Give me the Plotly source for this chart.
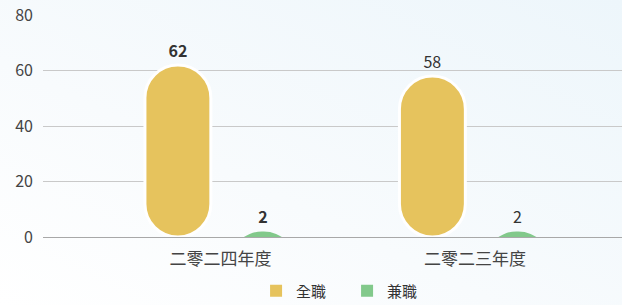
import base64
import plotly.graph_objects as go

categories = ["二零二四年度", "二零二三年度"]
fulltime = [62, 58]
parttime = [2, 2]
series_names = ["全職", "兼職"]
y_ticks = [0, 20, 40, 60, 80]

FONT = "Noto Sans CJK TC, Noto Sans, sans-serif"
YELLOW = "#e6c35d"
GREEN = "#82c98b"
TEXT = "#333333"

# layout geometry
W, H = 622, 305
ML, MR, MT, MB = 43, 0, 15, 68
PLOT_W, PLOT_H = W - ML - MR, H - MT - MB
Y_MAX = 80
BAR_W = 0.259                      # category units
Y_OFF = -0.167 - BAR_W / 2
G_OFF = 0.167 - BAR_W / 2
R_PX = 33                          # corner radius in px (half bar width)
R_UNITS = R_PX * Y_MAX / PLOT_H    # same radius in y units


def labels(vals):
    return [f"<b>{v}</b>" if i == 0 else str(v) for i, v in enumerate(vals)]


zero_base = [0 for _ in fulltime]
# part-time: a full rounded cap ending at the value, cut off by the axis
cap_base = [v - 2 * R_UNITS for v in parttime]
cap_len = [2 * R_UNITS for _ in parttime]

svg = (
    f'<svg xmlns="http://www.w3.org/2000/svg" width="{W}" height="{H}" preserveAspectRatio="none">'
    '<defs><linearGradient id="g" x1="1" y1="0" x2="0" y2="1">'
    '<stop offset="0" stop-color="#edf6fb"/><stop offset="0.6" stop-color="#f8fbfd"/>'
    '<stop offset="1" stop-color="#ffffff"/></linearGradient></defs>'
    f'<rect width="{W}" height="{H}" fill="url(#g)"/></svg>'
)
bg_src = "data:image/svg+xml;base64," + base64.b64encode(svg.encode()).decode()

fig = go.Figure()
# full-time: pill shaped bars (explicit base -> both ends rounded)
fig.add_trace(go.Bar(
    name=series_names[0], x=categories, y=fulltime, base=zero_base,
    offset=Y_OFF, width=BAR_W, showlegend=False, legendgroup="ft",
    hovertemplate="%{x}<br>%{y}<extra>全職</extra>",
    marker=dict(color=YELLOW, line=dict(color="white", width=3)),
    text=labels(fulltime), textposition="outside",
    textfont=dict(family=FONT, size=16, color=TEXT),
))
fig.add_trace(go.Bar(
    name=series_names[1], x=categories, y=cap_len, base=cap_base,
    offset=G_OFF, width=BAR_W, showlegend=False, legendgroup="pt",
    customdata=parttime, hovertemplate="%{x}<br>%{customdata}<extra>兼職</extra>",
    marker=dict(color=GREEN, line=dict(width=0)),
    text=labels(parttime), textposition="outside",
    textfont=dict(family=FONT, size=16, color=TEXT),
))
# legend entries (square swatches)
for name, col, grp in [(series_names[0], YELLOW, "ft"), (series_names[1], GREEN, "pt")]:
    fig.add_trace(go.Bar(
        name=name, x=[None], y=[None], legendgroup=grp, showlegend=True,
        marker=dict(color=col, cornerradius=0, line=dict(width=0)),
    ))

fig.update_layout(
    width=W, height=H,
    margin=dict(l=ML, r=MR, t=MT, b=MB, autoexpand=False),
    paper_bgcolor="#f8fbfd",
    plot_bgcolor="rgba(0,0,0,0)",
    barmode="overlay",
    barcornerradius=R_PX,
    font=dict(family=FONT, size=15, color=TEXT),
    showlegend=True,
    legend=dict(
        orientation="h", x=0.368, xanchor="left", y=-0.243, yanchor="middle",
        font=dict(family=FONT, size=15, color=TEXT),
        bgcolor="rgba(0,0,0,0)", entrywidth=46, tracegroupgap=0,
    ),
    images=[dict(
        source=bg_src, xref="paper", yref="paper",
        x=-ML / PLOT_W, y=1 + MT / PLOT_H, sizex=W / PLOT_W, sizey=H / PLOT_H,
        xanchor="left", yanchor="top", sizing="stretch", layer="below",
    )],
    xaxis=dict(
        range=[-0.697, 1.578], showgrid=False, showline=False, zeroline=False,
        ticks="", tickfont=dict(family=FONT, size=17, color="#444444"),
        ticklabelstandoff=10,
    ),
    yaxis=dict(
        range=[0, Y_MAX], tickvals=y_ticks, showgrid=True, gridcolor="#c9c9c9",
        gridwidth=1, zeroline=True, zerolinecolor="#a8a8a8", zerolinewidth=1,
        showline=False, ticks="",
        tickfont=dict(family=FONT, size=16, color="#444444"),
        ticklabelstandoff=9,
    ),
)

fig.write_html(
    "out.html",
    config={"displayModeBar": False},
    post_script="document.body.style.margin='0px';",
)
